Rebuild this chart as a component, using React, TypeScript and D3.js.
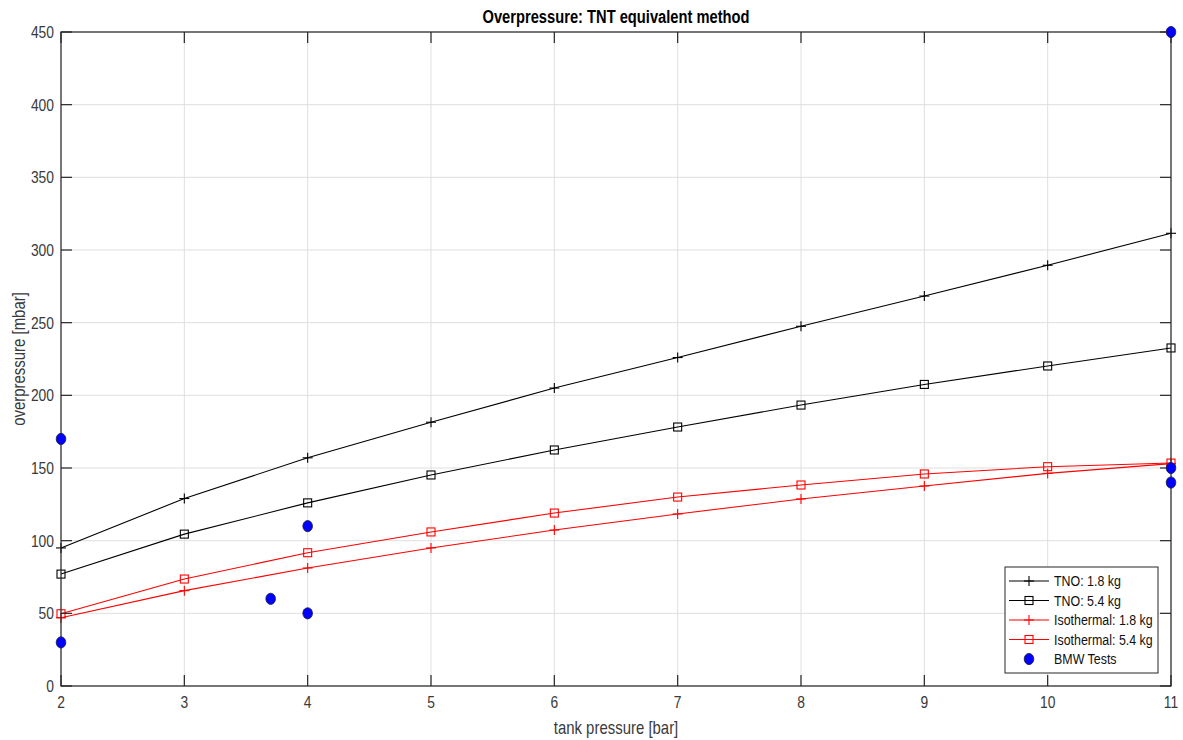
import React, { useEffect } from "react";
import * as d3 from "d3";

const xValues = [2, 3, 4, 5, 6, 7, 8, 9, 10, 11];
const tno18 = [95, 129, 157, 181.5, 205, 226, 247.5, 268.3, 289.5, 311.5];
const tno54 = [77, 104.5, 126, 145.2, 162.4, 178.2, 193.3, 207.5, 220.2, 232.6];
const iso18 = [47, 65.6, 81.2, 95, 107.3, 118.4, 128.7, 137.6, 146.3, 153];
const iso54 = [49.7, 73.6, 91.7, 106, 119, 130, 138.3, 145.9, 150.9, 153.4];
const bmwX = [2, 2, 3.7, 4, 4, 11, 11, 11];
const bmwY = [170, 30, 60, 110, 50, 450, 150, 140];
const xTicks = [2, 3, 4, 5, 6, 7, 8, 9, 10, 11];
const yTicks = [0, 50, 100, 150, 200, 250, 300, 350, 400, 450];

const W = 1183, H = 740;
const L = 61, R = 1171, T = 32, B = 686;
const SX = 0.84;

function SText(props: { x: number; y: number; size: number; anchor?: string; fill?: string; weight?: string; rotate?: number; children: React.ReactNode }) {
  const { x, y, size, anchor = "start", fill = "#333", weight = "normal", rotate = 0, children } = props;
  return (
    <text
      transform={`translate(${x},${y}) rotate(${rotate}) scale(${SX},1)`}
      textAnchor={anchor}
      fontSize={size}
      fontWeight={weight}
      fill={fill}
    >
      {children}
    </text>
  );
}

export default function App() {
  useEffect(() => { document.body.style.margin = "0"; }, []);
  const x = d3.scaleLinear().domain([2, 11]).range([L, R]);
  const y = d3.scaleLinear().domain([0, 450]).range([B, T]);
  const line = d3.line<number>().x((_, i) => x(xValues[i])).y(d => y(d));
  const font = "'Liberation Sans', Arial, Helvetica, sans-serif";
  const axisColor = "#262626";
  const textColor = "#3a3a3a";

  const plus = (cx: number, cy: number, c: string, k: string) => (
    <g key={k} stroke={c} strokeWidth={1.1}>
      <line x1={cx - 5} x2={cx + 5} y1={cy} y2={cy} />
      <line x1={cx} x2={cx} y1={cy - 5} y2={cy + 5} />
    </g>
  );
  const square = (cx: number, cy: number, c: string, k: string) => (
    <rect key={k} x={cx - 4} y={cy - 4} width={8} height={8} fill="none" stroke={c} strokeWidth={1.1} />
  );

  const series = [
    { data: tno18, color: "#000000", marker: "plus", label: "TNO: 1.8 kg" },
    { data: tno54, color: "#000000", marker: "square", label: "TNO: 5.4 kg" },
    { data: iso18, color: "#ff0000", marker: "plus", label: "Isothermal: 1.8 kg" },
    { data: iso54, color: "#ff0000", marker: "square", label: "Isothermal: 5.4 kg" },
  ];

  const legX = 1005, legY = 567, legW = 153, legH = 106;
  const rowH = 19.5;

  return (
    <svg width={W} height={H} style={{ display: "block", background: "#fff" }} fontFamily={font}>
      <rect x={0} y={0} width={W} height={H} fill="#ffffff" />
      {/* grid */}
      {xTicks.map(t => (
        <line key={"gx" + t} x1={x(t)} x2={x(t)} y1={T} y2={B} stroke="#dfdfdf" strokeWidth={1} />
      ))}
      {yTicks.map(t => (
        <line key={"gy" + t} x1={L} x2={R} y1={y(t)} y2={y(t)} stroke="#dfdfdf" strokeWidth={1} />
      ))}
      {/* series */}
      {series.map((s, si) => (
        <g key={"s" + si}>
          <path d={line(s.data) || ""} fill="none" stroke={s.color} strokeWidth={1.1} />
          {s.data.map((v, i) =>
            s.marker === "plus"
              ? plus(x(xValues[i]), y(v), s.color, "m" + si + "-" + i)
              : square(x(xValues[i]), y(v), s.color, "m" + si + "-" + i)
          )}
        </g>
      ))}
      {/* axes box */}
      <rect x={L} y={T} width={R - L} height={B - T} fill="none" stroke={axisColor} strokeWidth={1.2} />
      {/* ticks */}
      {xTicks.map(t => (
        <g key={"tx" + t} stroke={axisColor} strokeWidth={1.2}>
          <line x1={x(t)} x2={x(t)} y1={B} y2={B - 11} />
          <line x1={x(t)} x2={x(t)} y1={T} y2={T + 11} />
        </g>
      ))}
      {yTicks.map(t => (
        <g key={"ty" + t} stroke={axisColor} strokeWidth={1.2}>
          <line x1={L} x2={L + 11} y1={y(t)} y2={y(t)} />
          <line x1={R} x2={R - 11} y1={y(t)} y2={y(t)} />
        </g>
      ))}
      {/* BMW tests */}
      {bmwX.map((bx, i) => (
        <ellipse key={"b" + i} cx={x(bx)} cy={y(bmwY[i])} rx={4.8} ry={5.6} fill="#0000ff" stroke="#1a1a3a" strokeWidth={0.8} />
      ))}
      {/* tick labels */}
      {xTicks.map(t => (
        <SText key={"lx" + t} x={x(t)} y={B + 22} anchor="middle" size={16.5} fill={textColor}>{t}</SText>
      ))}
      {yTicks.map(t => (
        <SText key={"ly" + t} x={L - 7} y={y(t) + 6} anchor="end" size={16.5} fill={textColor}>{t}</SText>
      ))}
      {/* labels */}
      <SText x={(L + R) / 2} y={23} anchor="middle" size={17.5} weight="bold" fill="#000">Overpressure: TNT equivalent method</SText>
      <SText x={(L + R) / 2} y={734} anchor="middle" size={17.8} fill={textColor}>tank pressure [bar]</SText>
      <SText x={25} y={(T + B) / 2} rotate={-90} anchor="middle" size={17.8} fill={textColor}>overpressure [mbar]</SText>
      {/* legend */}
      <rect x={legX} y={legY} width={legW} height={legH} fill="#fff" stroke={axisColor} strokeWidth={1} />
      {series.map((s, i) => {
        const cy = legY + 14 + i * rowH;
        return (
          <g key={"leg" + i}>
            <line x1={legX + 4} x2={legX + 44} y1={cy} y2={cy} stroke={s.color} strokeWidth={1.1} />
            {s.marker === "plus" ? plus(legX + 24, cy, s.color, "lp" + i) : square(legX + 24, cy, s.color, "ls" + i)}
            <SText x={legX + 49} y={cy + 5} size={14.8} fill="#111">{s.label}</SText>
          </g>
        );
      })}
      <ellipse cx={legX + 24} cy={legY + 14 + 4 * rowH} rx={4.8} ry={5.6} fill="#0000ff" stroke="#1a1a3a" strokeWidth={0.8} />
      <SText x={legX + 49} y={legY + 14 + 4 * rowH + 5} size={14.8} fill="#111">BMW Tests</SText>
    </svg>
  );
}
